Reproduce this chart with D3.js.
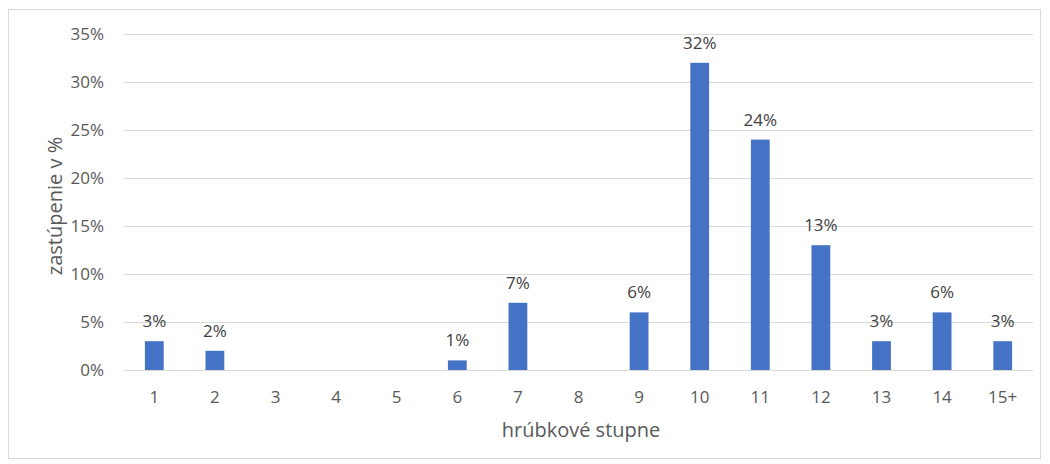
<!DOCTYPE html>
<html>
<head>
<meta charset="utf-8">
<script src="https://cdn.jsdelivr.net/npm/d3@7"></script>
<style>
  html, body { margin: 0; padding: 0; background: #fff; }
  svg { display: block; }
  text { font-family: "Open Sans", "Noto Sans", sans-serif; }
</style>
</head>
<body>
<svg id="chart" width="1050" height="464"></svg>
<script>
// Distribution of stems by thickness class
const categories = ["1", "2", "3", "4", "5", "6", "7", "8", "9", "10", "11", "12", "13", "14", "15+"];
const shares = [3, 2, 0, 0, 0, 1, 7, 0, 6, 32, 24, 13, 3, 6, 3];
const yTicks = [0, 5, 10, 15, 20, 25, 30, 35];
const xTitle = "hrúbkové stupne";
const yTitle = "zastúpenie v %";

const svg = d3.select("#chart");
const W = 1050, H = 464;
const margin = { top: 34, right: 17, bottom: 94, left: 124 };
const plotW = W - margin.left - margin.right;
const plotH = H - margin.top - margin.bottom;
const font = "'Open Sans', 'Noto Sans', sans-serif";

// outer chart frame
svg.append("rect")
  .attr("x", 8.5).attr("y", 9.5)
  .attr("width", 1032).attr("height", 449)
  .attr("fill", "#fff").attr("stroke", "#d9d9d9").attr("stroke-width", 1);

const g = svg.append("g").attr("transform", `translate(${margin.left},${margin.top})`);

const x = d3.scaleBand().domain(categories).range([0, plotW]).paddingInner(0.69).paddingOuter(0.345);
const y = d3.scaleLinear().domain([0, 35]).range([plotH, 0]);

// horizontal gridlines
g.append("g").selectAll("line").data(yTicks).join("line")
  .attr("x1", 0).attr("x2", plotW)
  .attr("y1", d => Math.round(y(d)) + 0.5).attr("y2", d => Math.round(y(d)) + 0.5)
  .attr("stroke", "#d9d9d9").attr("stroke-width", 1);

// y axis labels
const yAxis = d3.axisLeft(y).tickValues(yTicks).tickFormat(d => d + "%").tickSize(0).tickPadding(20);
const ya = g.append("g").call(yAxis);
ya.select(".domain").remove();
ya.selectAll("text").attr("fill", "#595959").attr("font-size", 17).attr("font-family", font);

// x axis labels
const xAxis = d3.axisBottom(x).tickSize(0).tickPadding(21);
const xa = g.append("g").attr("transform", `translate(0,${plotH})`).call(xAxis);
xa.select(".domain").remove();
xa.selectAll("text").attr("fill", "#595959").attr("font-size", 17).attr("font-family", font);

// bars
const rows = shares.map((v, i) => ({ c: categories[i], v }));
g.append("g").selectAll("rect").data(rows)
  .join("rect")
  .attr("x", d => x(d.c))
  .attr("y", d => y(d.v))
  .attr("width", x.bandwidth())
  .attr("height", d => plotH - y(d.v))
  .attr("fill", "#4472c4");

// value labels
g.append("g").selectAll("text").data(rows.filter(d => d.v > 0))
  .join("text")
  .attr("x", d => x(d.c) + x.bandwidth() / 2)
  .attr("y", d => y(d.v) - 14)
  .attr("text-anchor", "middle")
  .attr("fill", "#404040").attr("font-size", 17)
  .text(d => d.v + "%");

// axis titles
svg.append("text")
  .attr("x", 581).attr("y", 437)
  .attr("text-anchor", "middle").attr("fill", "#595959").attr("font-size", 20)
  .text(xTitle);

svg.append("text")
  .attr("transform", `translate(62,206) rotate(-90)`)
  .attr("text-anchor", "middle").attr("fill", "#595959").attr("font-size", 20)
  .text(yTitle);
</script>
</body>
</html>
